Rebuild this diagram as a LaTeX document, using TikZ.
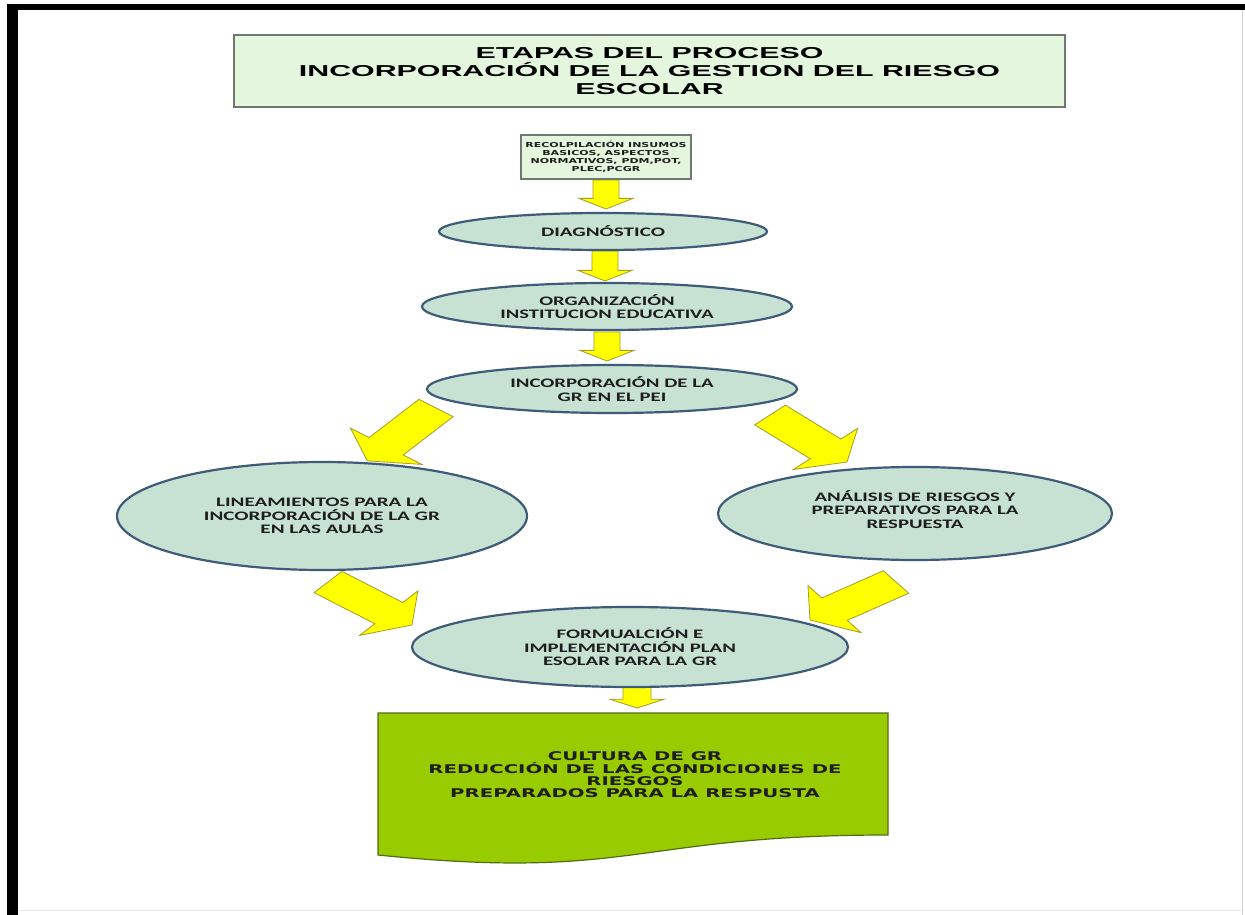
\documentclass[tikz,border=0pt]{standalone}
\usepackage{fontspec}
\setmainfont{Liberation Sans}
\newfontfamily\calib{Carlito}
\newfontfamily\heavyf{DejaVu Sans}
\usetikzlibrary{calc,shapes.geometric,backgrounds}
\definecolor{titlefill}{RGB}{229,246,222}
\definecolor{titledraw}{RGB}{110,120,110}
\definecolor{ellfill}{RGB}{199,226,211}
\definecolor{elldraw}{RGB}{62,92,122}
\definecolor{docfill}{RGB}{153,204,0}
\definecolor{docdraw}{RGB}{80,110,20}
\definecolor{arrfill}{RGB}{255,255,0}
\definecolor{arrdraw}{RGB}{165,155,40}
\definecolor{txt}{RGB}{30,30,30}
% centred lines (separated by \cr), fixed baselineskip, stretched horizontally by #1
\newcommand\stx[2]{\scalebox{#1}[1]{\vbox{\lineskiplimit=-\maxdimen\lineskip=0pt\halign{\hfil##\hfil\cr#2\crcr}}}}
% block arrow drawn in an unsquashed frame (y stretched 1.6) and squashed back:
% #1 tail, #2 tip, #3 half shaft, #4 half head, #5 head length
\newcommand\blockarrow[5]{%
  \path (#1); \pgfgetlastxy{\bax}{\bay}%
  \path (#2); \pgfgetlastxy{\bbx}{\bby}%
  \pgfmathsetmacro\bdx{\bbx-\bax}%
  \pgfmathsetmacro\bdy{(\bby-\bay)*1.6}%
  \pgfmathsetmacro\bang{atan2(\bdy,\bdx)}%
  \pgfmathsetmacro\blen{veclen(\bdx,\bdy)}%
  \begin{scope}[shift={(#1)}, yscale=0.625, rotate=\bang]
    \draw[yarrow] (0,-#3) -- (\blen-#5,-#3) -- (\blen-#5,-#4) -- (\blen,0)
       -- (\blen-#5,#4) -- (\blen-#5,#3) -- (0,#3) -- cycle;
  \end{scope}}
\begin{document}
\begin{tikzpicture}[x=1pt,y=-1pt,
  titlebox/.style={draw=titledraw, line width=1.3pt, fill=titlefill, inner sep=0pt,
     font=\fontsize{15.8}{18}\selectfont\bfseries, text=black},
  smallbox/.style={draw=titledraw, line width=1.2pt, fill=titlefill, inner sep=0pt,
     font=\heavyf\bfseries\fontsize{6.8}{8.2}\selectfont, text=txt},
  ell/.style={ellipse, draw=elldraw, line width=2.2pt, fill=ellfill, inner sep=0pt,
     font=\calib\bfseries\fontsize{13}{13.5}\selectfont, text=txt},
  doctext/.style={inner sep=0pt, font=\heavyf\bfseries\fontsize{12}{12.4}\selectfont, text=txt},
  yarrow/.style={fill=arrfill, draw=arrdraw, line width=0.8pt, line join=miter},
  docshape/.style={fill=docfill, draw=docdraw, line width=1.2pt}]
\useasboundingbox (0,0) rectangle (1245,915);
% frame
\fill[black] (7,4) rectangle (1245,10);
\fill[black] (7,4) rectangle (18,915);
\draw[gray!35, line width=1pt] (1242,10) -- (1242,915);
\draw[gray!20, line width=1pt] (18,910) -- (1242,910);

% nodes
\node[titlebox, minimum width=831pt, minimum height=72pt] (title) at (649.5,71)
  {\raisebox{-2pt}{\stx{1.92}{ETAPAS DEL PROCESO\cr INCORPORACIÓN DE LA GESTION DEL RIESGO\cr ESCOLAR}}};
\node[smallbox, minimum width=170pt, minimum height=44pt] (insumos) at (606,157)
  {\stx{1.62}{RECOLPILACIÓN INSUMOS\cr BASICOS, ASPECTOS\cr NORMATIVOS, PDM,POT,\cr PLEC,PCGR}};
\node[ell, minimum width=328pt, minimum height=37pt] (diag) at (603,231.5)
  {\stx{1.62}{DIAGNÓSTICO}};
\node[ell, minimum width=370pt, minimum height=47pt] (org) at (607,306.5)
  {\stx{1.58}{ORGANIZACIÓN\cr INSTITUCION EDUCATIVA}};
\node[ell, minimum width=370pt, minimum height=48pt] (incorp) at (612,389)
  {\stx{1.6}{INCORPORACIÓN DE LA\cr GR EN EL PEI}};
\node[ell, minimum width=410pt, minimum height=108pt] (linea) at (322,516)
  {\stx{1.62}{LINEAMIENTOS PARA LA\cr INCORPORACIÓN DE LA GR\cr EN LAS AULAS}};
\node[ell, minimum width=394pt, minimum height=93pt] (analisis) at (915,513.5)
  {\stx{1.6}{ANÁLISIS DE RIESGOS Y\cr PREPARATIVOS PARA LA\cr RESPUESTA\cr\noalign{\vskip 8pt}}};
\node[ell, minimum width=436pt, minimum height=80pt] (formul) at (630,647)
  {\stx{1.6}{FORMUALCIÓN E\cr IMPLEMENTACIÓN PLAN\cr ESOLAR PARA LA GR}};

% document shape (result)
\path[docshape] (378,713) -- (888,713) -- (888,835)
   .. controls (633,835) and (633,881) .. (378,855) -- cycle;
\node[doctext] (cultura) at (635,775)
  {\stx{1.64}{CULTURA DE GR\cr REDUCCIÓN DE LAS CONDICIONES DE\cr RIESGOS\cr PREPARADOS PARA LA RESPUSTA}};

% arrow end points
\coordinate (a1s) at (606,180);  \coordinate (a1e) at (606,209);
\coordinate (a2s) at (605,251);  \coordinate (a2e) at (605,281);
\coordinate (a3s) at (607,332);  \coordinate (a3e) at (607,361);
\coordinate (a4s) at (637,681);  \coordinate (a4e) at (637,708);
\coordinate (ulS) at (436,408);  \coordinate (ulE) at (367,461);
\coordinate (urS) at (770,415);  \coordinate (urE) at (847,462);
\coordinate (llS) at (328,582);  \coordinate (llE) at (412,625);
\coordinate (lrS) at (896,582);  \coordinate (lrE) at (810,620);

\begin{pgfonlayer}{background}
\fill[white] (0,0) rectangle (1245,915);
\blockarrow{a1s}{a1e}{13}{27}{17}
\blockarrow{a2s}{a2e}{13}{27}{17}
\blockarrow{a3s}{a3e}{13}{27}{17}
\blockarrow{a4s}{a4e}{14}{27}{14}
\blockarrow{ulS}{ulE}{22}{46}{30}
\blockarrow{urS}{urE}{22}{46}{30}
\blockarrow{llS}{llE}{22}{46}{30}
\blockarrow{lrS}{lrE}{22}{46}{30}
\end{pgfonlayer}
\end{tikzpicture}
\end{document}
